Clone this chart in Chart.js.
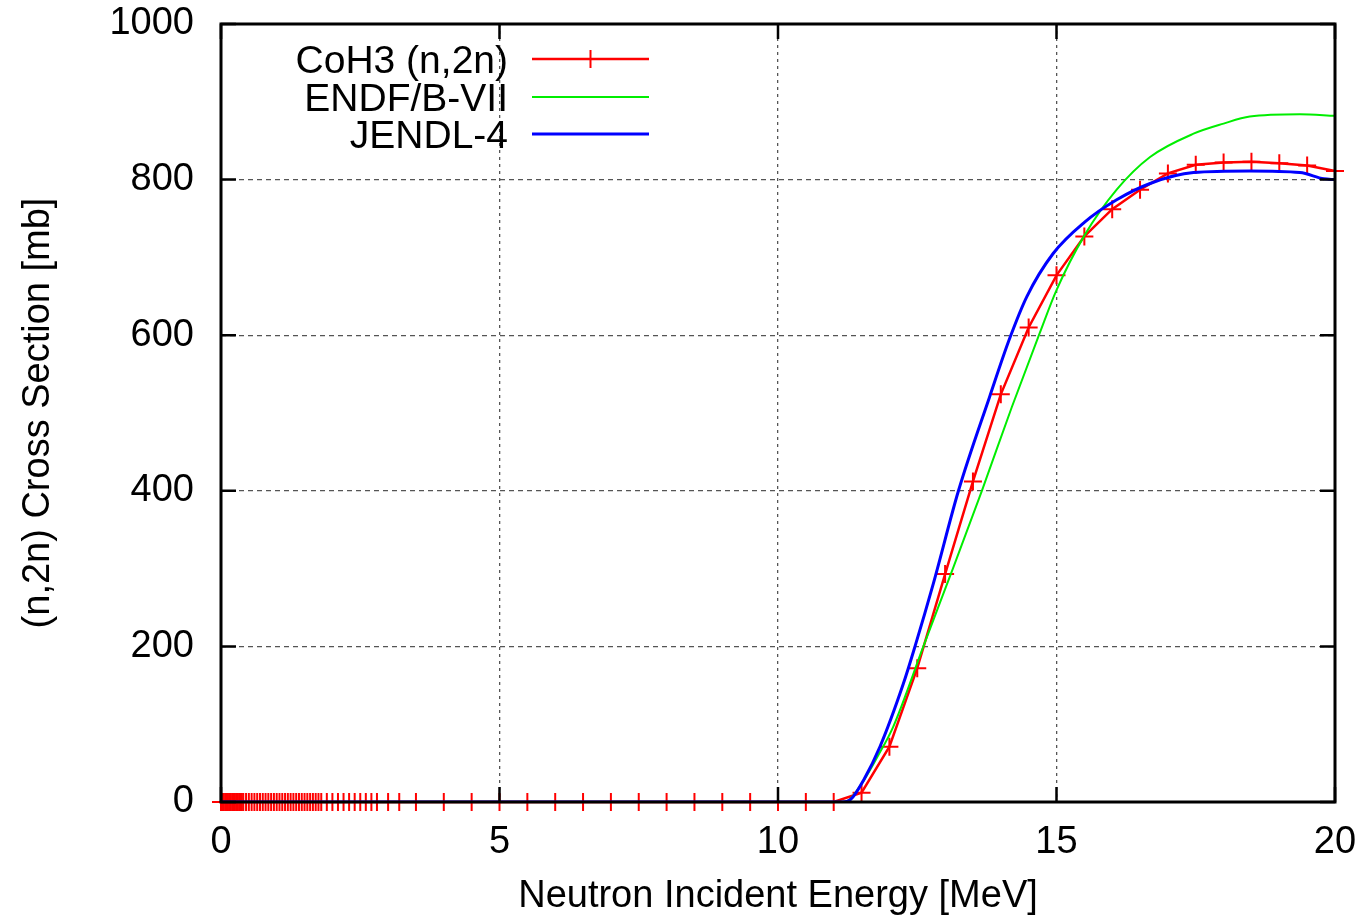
<!DOCTYPE html>
<html>
<head>
<meta charset="utf-8">
<script src="https://cdn.jsdelivr.net/npm/chart.js@4.4.1/dist/chart.umd.min.js"></script>
<style>
  html, body { margin: 0; padding: 0; background: #fff; }
</style>
</head>
<body>
<canvas id="chart" width="1365" height="919"></canvas>
<script>
// CoH3 (n,2n) calculation (MeV, mb)
const coh3Energy = [
  0, 0.025, 0.05, 0.075, 0.1, 0.125, 0.15, 0.175, 0.2, 0.225, 0.25, 0.275, 0.3, 0.325, 0.35, 0.375, 0.4,
  0.45, 0.5, 0.55, 0.6, 0.65, 0.7, 0.75, 0.8, 0.85, 0.9, 0.95, 1.0, 1.05, 1.1, 1.15, 1.2, 1.25, 1.3,
  1.35, 1.4, 1.45, 1.5, 1.55, 1.6, 1.65, 1.7, 1.75, 1.8,
  1.9, 2.0, 2.1, 2.2, 2.3, 2.4, 2.5, 2.6, 2.7, 2.8,
  3.0, 3.2, 3.5,
  4.0, 4.5, 5.0, 5.5, 6.0, 6.5, 7.0, 7.5, 8.0, 8.5, 9.0, 9.5, 10.0, 10.5, 11.0,
  11.5, 12.0, 12.5, 13.0, 13.5, 14.0, 14.5, 15.0, 15.5, 16.0, 16.5, 17.0, 17.5, 18.0, 18.5, 19.0, 19.5, 20.0
];
const coh3XS = [
  0, 0, 0, 0, 0, 0, 0, 0, 0, 0, 0, 0, 0, 0, 0, 0, 0,
  0, 0, 0, 0, 0, 0, 0, 0, 0, 0, 0, 0, 0, 0, 0, 0, 0, 0,
  0, 0, 0, 0, 0, 0, 0, 0, 0, 0,
  0, 0, 0, 0, 0, 0, 0, 0, 0, 0,
  0, 0, 0,
  0, 0, 0, 0, 0, 0, 0, 0, 0, 0, 0, 0, 0, 0, 0,
  12, 71, 172, 293, 412, 524, 610, 677, 727, 762, 787, 808, 819, 822, 823, 821, 818, 811
];

// ENDF/B-VII evaluation
const endfEnergy = [0, 11.2, 11.47, 11.8, 12.07, 12.61, 13.15, 13.66, 14.2, 14.7, 15.0, 15.5, 16.08, 16.68, 17.46, 18.0, 18.47, 19.37, 20.0];
const endfXS = [0, 0, 20, 60, 97, 200, 302, 400, 508, 603, 658, 728, 787, 829, 859, 872, 881, 884, 882];

// JENDL-4 evaluation
const jendlEnergy = [0, 11.15, 11.3, 11.55, 11.83, 12.25, 12.46, 12.79, 13.24, 13.8, 14.16, 14.47, 14.94, 15.5, 16.08, 16.68, 17.46, 18.47, 19.37, 19.8, 20.0];
const jendlXS = [0, 0, 3, 30, 71, 152, 200, 281, 400, 521, 596, 650, 705, 745, 774, 795, 809, 811, 809, 801, 800];

const seriesNames = ["CoH3 (n,2n)", "ENDF/B-VII", "JENDL-4"];
const xTickValues = [0, 5, 10, 15, 20];
const yTickValues = [0, 200, 400, 600, 800, 1000];

const RED = "#ff0000";
const GREEN = "#00ee00";
const BLUE = "#0000ff";
const FONT = "'Liberation Sans', Arial, sans-serif";

Chart.defaults.font.family = FONT;
Chart.defaults.font.size = 38;
Chart.defaults.color = "#000";

const toPoints = (xs, ys) => xs.map((x, i) => ({ x: x, y: ys[i] }));

// gnuplot style frame: thick border with inward ticks on all four sides
const framePlugin = {
  id: "frame",
  afterDatasetsDraw(chart) {
    const { ctx, chartArea: a, scales } = chart;
    const tickLen = 15;
    ctx.save();
    ctx.strokeStyle = "#000";
    ctx.lineWidth = 2.5;
    ctx.beginPath();
    xTickValues.forEach((v) => {
      const x = scales.x.getPixelForValue(v);
      ctx.moveTo(x, a.bottom);
      ctx.lineTo(x, a.bottom - tickLen);
      ctx.moveTo(x, a.top);
      ctx.lineTo(x, a.top + tickLen);
    });
    yTickValues.forEach((v) => {
      const y = scales.y.getPixelForValue(v);
      ctx.moveTo(a.left, y);
      ctx.lineTo(a.left + tickLen, y);
      ctx.moveTo(a.right, y);
      ctx.lineTo(a.right - tickLen, y);
    });
    ctx.stroke();
    ctx.lineWidth = 3;
    ctx.strokeRect(a.left, a.top, a.right - a.left, a.bottom - a.top);
    ctx.restore();
  },
};

// key in the top left corner, text right aligned with the sample on its right
const keyPlugin = {
  id: "key",
  afterDraw(chart) {
    const { ctx } = chart;
    const datasets = chart.data.datasets;
    const textRight = 508;
    const sampleLeft = 532;
    const sampleRight = 649;
    const rowY = [59, 97, 134];
    ctx.save();
    ctx.font = "39px " + FONT;
    ctx.textAlign = "right";
    ctx.textBaseline = "alphabetic";
    ctx.fillStyle = "#000";
    datasets.forEach((ds, i) => {
      const y = rowY[i];
      ctx.fillText(ds.label, textRight, y + 14);
      ctx.strokeStyle = ds.borderColor;
      ctx.lineWidth = ds.borderWidth;
      ctx.beginPath();
      ctx.moveTo(sampleLeft, y);
      ctx.lineTo(sampleRight, y);
      ctx.stroke();
      if (ds.pointRadius > 0) {
        const mx = (sampleLeft + sampleRight) / 2;
        const r = ds.pointRadius;
        ctx.lineWidth = ds.pointBorderWidth;
        ctx.beginPath();
        ctx.moveTo(mx - r, y);
        ctx.lineTo(mx + r, y);
        ctx.moveTo(mx, y - r);
        ctx.lineTo(mx, y + r);
        ctx.stroke();
      }
    });
    ctx.restore();
  },
};

const gridColor = (c) =>
  c.tick && (c.index === 0 || c.index === c.scale.ticks.length - 1) ? "rgba(0,0,0,0)" : "#555";

new Chart(document.getElementById("chart"), {
  type: "line",
  data: {
    datasets: [
      {
        label: seriesNames[0],
        data: toPoints(coh3Energy, coh3XS),
        borderColor: RED,
        backgroundColor: RED,
        borderWidth: 2.5,
        pointStyle: "cross",
        pointRadius: 9,
        pointBorderWidth: 2,
        pointBorderColor: RED,
        tension: 0,
        clip: false,
        order: 2,
      },
      {
        label: seriesNames[1],
        data: toPoints(endfEnergy, endfXS),
        borderColor: GREEN,
        backgroundColor: GREEN,
        borderWidth: 2,
        pointRadius: 0,
        cubicInterpolationMode: "monotone",
        order: 1,
      },
      {
        label: seriesNames[2],
        data: toPoints(jendlEnergy, jendlXS),
        borderColor: BLUE,
        backgroundColor: BLUE,
        borderWidth: 3,
        pointRadius: 0,
        cubicInterpolationMode: "monotone",
        order: 0,
      },
    ],
  },
  options: {
    responsive: false,
    animation: false,
    devicePixelRatio: 1,
    layout: { padding: { left: 0, top: 24, right: 30, bottom: 0 } },
    plugins: {
      legend: { display: false },
      tooltip: { enabled: false },
    },
    scales: {
      x: {
        type: "linear",
        min: 0,
        max: 20,
        afterFit: (scale) => {
          scale.height = 117;
          scale.paddingLeft = 0;
          scale.paddingRight = 0;
        },
        afterBuildTicks: (scale) => { scale.ticks = xTickValues.map((v) => ({ value: v })); },
        ticks: { padding: 18, maxRotation: 0, callback: (v) => String(v) },
        grid: { color: gridColor, lineWidth: 1.3, drawTicks: false },
        border: { display: false, dash: [3, 4] },
        title: {
          display: true,
          text: "Neutron Incident Energy [MeV]",
          padding: { top: 0, bottom: 0 },
        },
      },
      y: {
        type: "linear",
        min: 0,
        max: 1000,
        afterFit: (scale) => {
          scale.width = 221;
          scale.paddingTop = 0;
          scale.paddingBottom = 0;
        },
        afterBuildTicks: (scale) => { scale.ticks = yTickValues.map((v) => ({ value: v })); },
        ticks: { padding: 27, callback: (v) => String(v) },
        grid: { color: gridColor, lineWidth: 1.3, drawTicks: false },
        border: { display: false, dash: [5, 4] },
        title: {
          display: true,
          text: "(n,2n) Cross Section [mb]",
          padding: { top: 16, bottom: 0 },
        },
      },
    },
  },
  plugins: [framePlugin, keyPlugin],
});
</script>
</body>
</html>
